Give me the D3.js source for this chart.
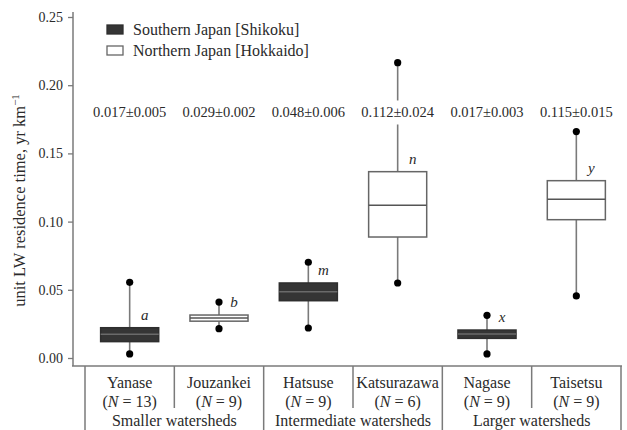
<!DOCTYPE html>
<html lang="en">
<head>
<meta charset="UTF-8">
<title>LW residence time</title>
<script src="https://cdnjs.cloudflare.com/ajax/libs/d3/7.8.5/d3.min.js"></script>
<style>
  body { margin: 0; background: #fff; }
  text { font-family: "Liberation Serif", "Times New Roman", serif; fill: #2a2a2a; }
</style>
</head>
<body>
<script>
// data
const sites = ["Yanase", "Jouzankei", "Hatsuse", "Katsurazawa", "Nagase", "Taisetsu"]
const nObs = [13, 9, 9, 6, 9, 9]
const region = ["south", "north", "south", "north", "south", "north"]
const whiskLo = [0.003, 0.0215, 0.022, 0.055, 0.003, 0.0455]
const q1 = [0.012, 0.027, 0.042, 0.0887, 0.0144, 0.1014]
const median = [0.0174, 0.0293, 0.0486, 0.112, 0.0176, 0.1163]
const q3 = [0.0222, 0.0315, 0.055, 0.1366, 0.0205, 0.130]
const whiskHi = [0.0555, 0.041, 0.0702, 0.2165, 0.0313, 0.166]
const meanSd = ["0.017\u00b10.005", "0.029\u00b10.002", "0.048\u00b10.006", "0.112\u00b10.024", "0.017\u00b10.003", "0.115\u00b10.015"]
const letters = ["a", "b", "m", "n", "x", "y"]
const groups = ["Smaller watersheds", "Intermediate watersheds", "Larger watersheds"]
const yTicks = [0, 0.05, 0.10, 0.15, 0.20, 0.25]
const legendLabels = ["Southern Japan [Shikoku]", "Northern Japan [Hokkaido]"]

let width = 627
let height = 430

let svg = d3.select("body").append("svg")
    .attr("width", width)
    .attr("height", height)

let y = d3.scaleLinear().domain([0, 0.25]).range([358, 17])
let x = d3.scaleBand().domain(sites).range([85, 621]).paddingInner(0.35).paddingOuter(0.175)
let bw = x.bandwidth()
let step = x.step()
let left = 85

const lineCol = "#7a7a7a"
const fills = { south: "#353535", north: "#ffffff" }

// y axis
let yAxis = d3.axisLeft(y).tickValues(yTicks).tickFormat(d3.format(".2f")).tickSize(5).tickPadding(5)
let ga = svg.append("g").attr("transform", "translate(73,0)").call(yAxis)
ga.select(".domain").remove()
ga.selectAll(".tick line").attr("stroke", lineCol).attr("stroke-width", 1.3)
ga.selectAll(".tick text").attr("font-size", 14).attr("font-family", "Liberation Serif").attr("fill", "#3a3a3a")
svg.append("line").attr("x1", 73).attr("x2", 73).attr("y1", 12).attr("y2", 366)
    .attr("stroke", lineCol).attr("stroke-width", 1.5)
svg.append("line").attr("x1", 72).attr("x2", 622).attr("y1", 366).attr("y2", 366)
    .attr("stroke", lineCol).attr("stroke-width", 1.5)

// y title
svg.append("text")
    .attr("transform", "translate(25," + (y(0.125) + 13) + ") rotate(-90)")
    .attr("text-anchor", "middle")
    .attr("font-size", 16.5)
    .text("unit LW residence time, yr km")
    .append("tspan").attr("dy", -6).attr("font-size", 11).text("\u22121")

// table separators under the axis
for (let i = 0; i <= sites.length; i++) {
    let long = i % 2 === 0
    svg.append("line")
        .attr("x1", left + i * step).attr("x2", left + i * step)
        .attr("y1", 366).attr("y2", long ? 432 : 408)
        .attr("stroke", lineCol).attr("stroke-width", 1.5)
}

// site and N labels
sites.forEach((s, i) => {
    let cx = x(s) + bw / 2
    svg.append("text").attr("x", cx).attr("y", 388).attr("text-anchor", "middle")
        .attr("font-size", 16).text(s)
    let t = svg.append("text").attr("x", cx).attr("y", 407).attr("text-anchor", "middle")
        .attr("font-size", 16)
    t.append("tspan").text("(")
    t.append("tspan").attr("font-style", "italic").text("N")
    t.append("tspan").text(" = " + nObs[i] + ")")
})

groups.forEach((g, i) => {
    svg.append("text").attr("x", left + (2 * i + 1) * step).attr("y", 426)
        .attr("text-anchor", "middle").attr("font-size", 16).text(g)
})

// boxes
sites.forEach((s, i) => {
    let cx = x(s) + bw / 2
    let g = svg.append("g")
    g.append("line").attr("x1", cx).attr("x2", cx)
        .attr("y1", y(whiskLo[i])).attr("y2", y(whiskHi[i]))
        .attr("stroke", lineCol).attr("stroke-width", 1.6)
    let dark = region[i] === "south"
    g.append("rect").attr("x", x(s)).attr("width", bw)
        .attr("y", y(q3[i])).attr("height", y(q1[i]) - y(q3[i]))
        .attr("fill", fills[region[i]])
        .attr("stroke", dark ? "#2e2e2e" : "#666").attr("stroke-width", 1.5)
    g.append("line").attr("x1", x(s)).attr("x2", x(s) + bw)
        .attr("y1", y(median[i])).attr("y2", y(median[i]))
        .attr("stroke", dark ? "#6a6a6a" : "#555").attr("stroke-width", 1.5)
    g.selectAll("circle").data([whiskLo[i], whiskHi[i]]).join("circle")
        .attr("cx", cx).attr("cy", d => y(d)).attr("r", 3.6).attr("fill", "#000")
    g.append("text").attr("x", cx + 15).attr("y", y(q3[i]) - 8)
        .attr("font-size", 15).attr("font-style", "italic").attr("text-anchor", "middle")
        .attr("fill", "#555").text(letters[i])
})

// mean +- sd row, knocking out the whiskers behind it
sites.forEach((s, i) => {
    let cx = x(s) + bw / 2
    let t = svg.append("text").attr("x", cx).attr("y", y(0.18) + 5)
        .attr("text-anchor", "middle").attr("font-size", 14.5).text(meanSd[i])
    let b = t.node().getBBox()
    svg.insert("rect", () => t.node())
        .attr("x", b.x - 2).attr("y", b.y - 4).attr("width", b.width + 4).attr("height", b.height + 8)
        .attr("fill", "#fff")
})

// legend
legendLabels.forEach((l, i) => {
    let ly = 25 + i * 21
    svg.append("rect").attr("x", 107).attr("y", ly).attr("width", 16).attr("height", 9)
        .attr("fill", i === 0 ? fills.south : fills.north)
        .attr("stroke", i === 0 ? "#2e2e2e" : "#666").attr("stroke-width", 1.3)
    svg.append("text").attr("x", 133).attr("y", ly + 9.5).attr("font-size", 16).text(l)
})
</script>
</body>
</html>
